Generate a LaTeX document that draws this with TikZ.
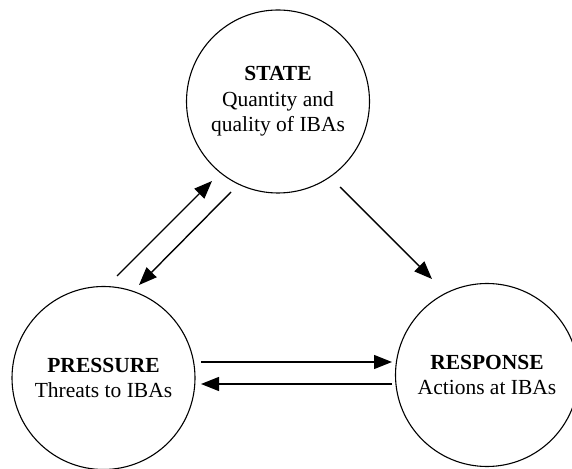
\documentclass[tikz,border=0pt]{standalone}
\usepackage{fontspec}
\setmainfont{Liberation Serif}
\usetikzlibrary{arrows.meta,calc}
\begin{document}
\begin{tikzpicture}[x=1pt,y=1pt,
  stage/.style={circle,draw,line width=1.1pt,minimum size=183pt,inner sep=0pt,align=center,
    font=\fontsize{21.5}{25.5}\selectfont},
  flow/.style={line width=1.4pt,-{Triangle[length=18pt,width=14pt]}}]
\useasboundingbox (0,0) rectangle (572,468);
\clip (0,0) rectangle (572,468);
\node[stage] (state) at (278,366.5) {\textbf{STATE}\\Quantity and\\quality of IBAs};
\node[stage] (pressure) at (103.5,90) {\textbf{PRESSURE}\\Threats to IBAs};
\node[stage] (response) at (487,93) {\textbf{RESPONSE}\\Actions at IBAs};
\coordinate (a1s) at ($(pressure.center)+(13.5,102)$);
\coordinate (a1e) at ($(state.center)+(-66,-79.5)$);
\coordinate (a2s) at ($(state.center)+(-47,-90.5)$);
\coordinate (a2e) at ($(pressure.center)+(35.5,93)$);
\coordinate (a3s) at ($(state.center)+(62,-85.5)$);
\coordinate (a3e) at ($(response.center)+(-55,96)$);
\coordinate (a4s) at ($(pressure.center)+(97.5,16)$);
\coordinate (a4e) at ($(response.center)+(-95,13)$);
\coordinate (a5s) at ($(response.center)+(-95,-9)$);
\coordinate (a5e) at ($(pressure.center)+(97.5,-6)$);
\draw[flow] (a1s) -- (a1e);
\draw[flow] (a2s) -- (a2e);
\draw[flow] (a3s) -- (a3e);
\draw[flow] (a4s) -- (a4e);
\draw[flow] (a5s) -- (a5e);
\end{tikzpicture}
\end{document}
